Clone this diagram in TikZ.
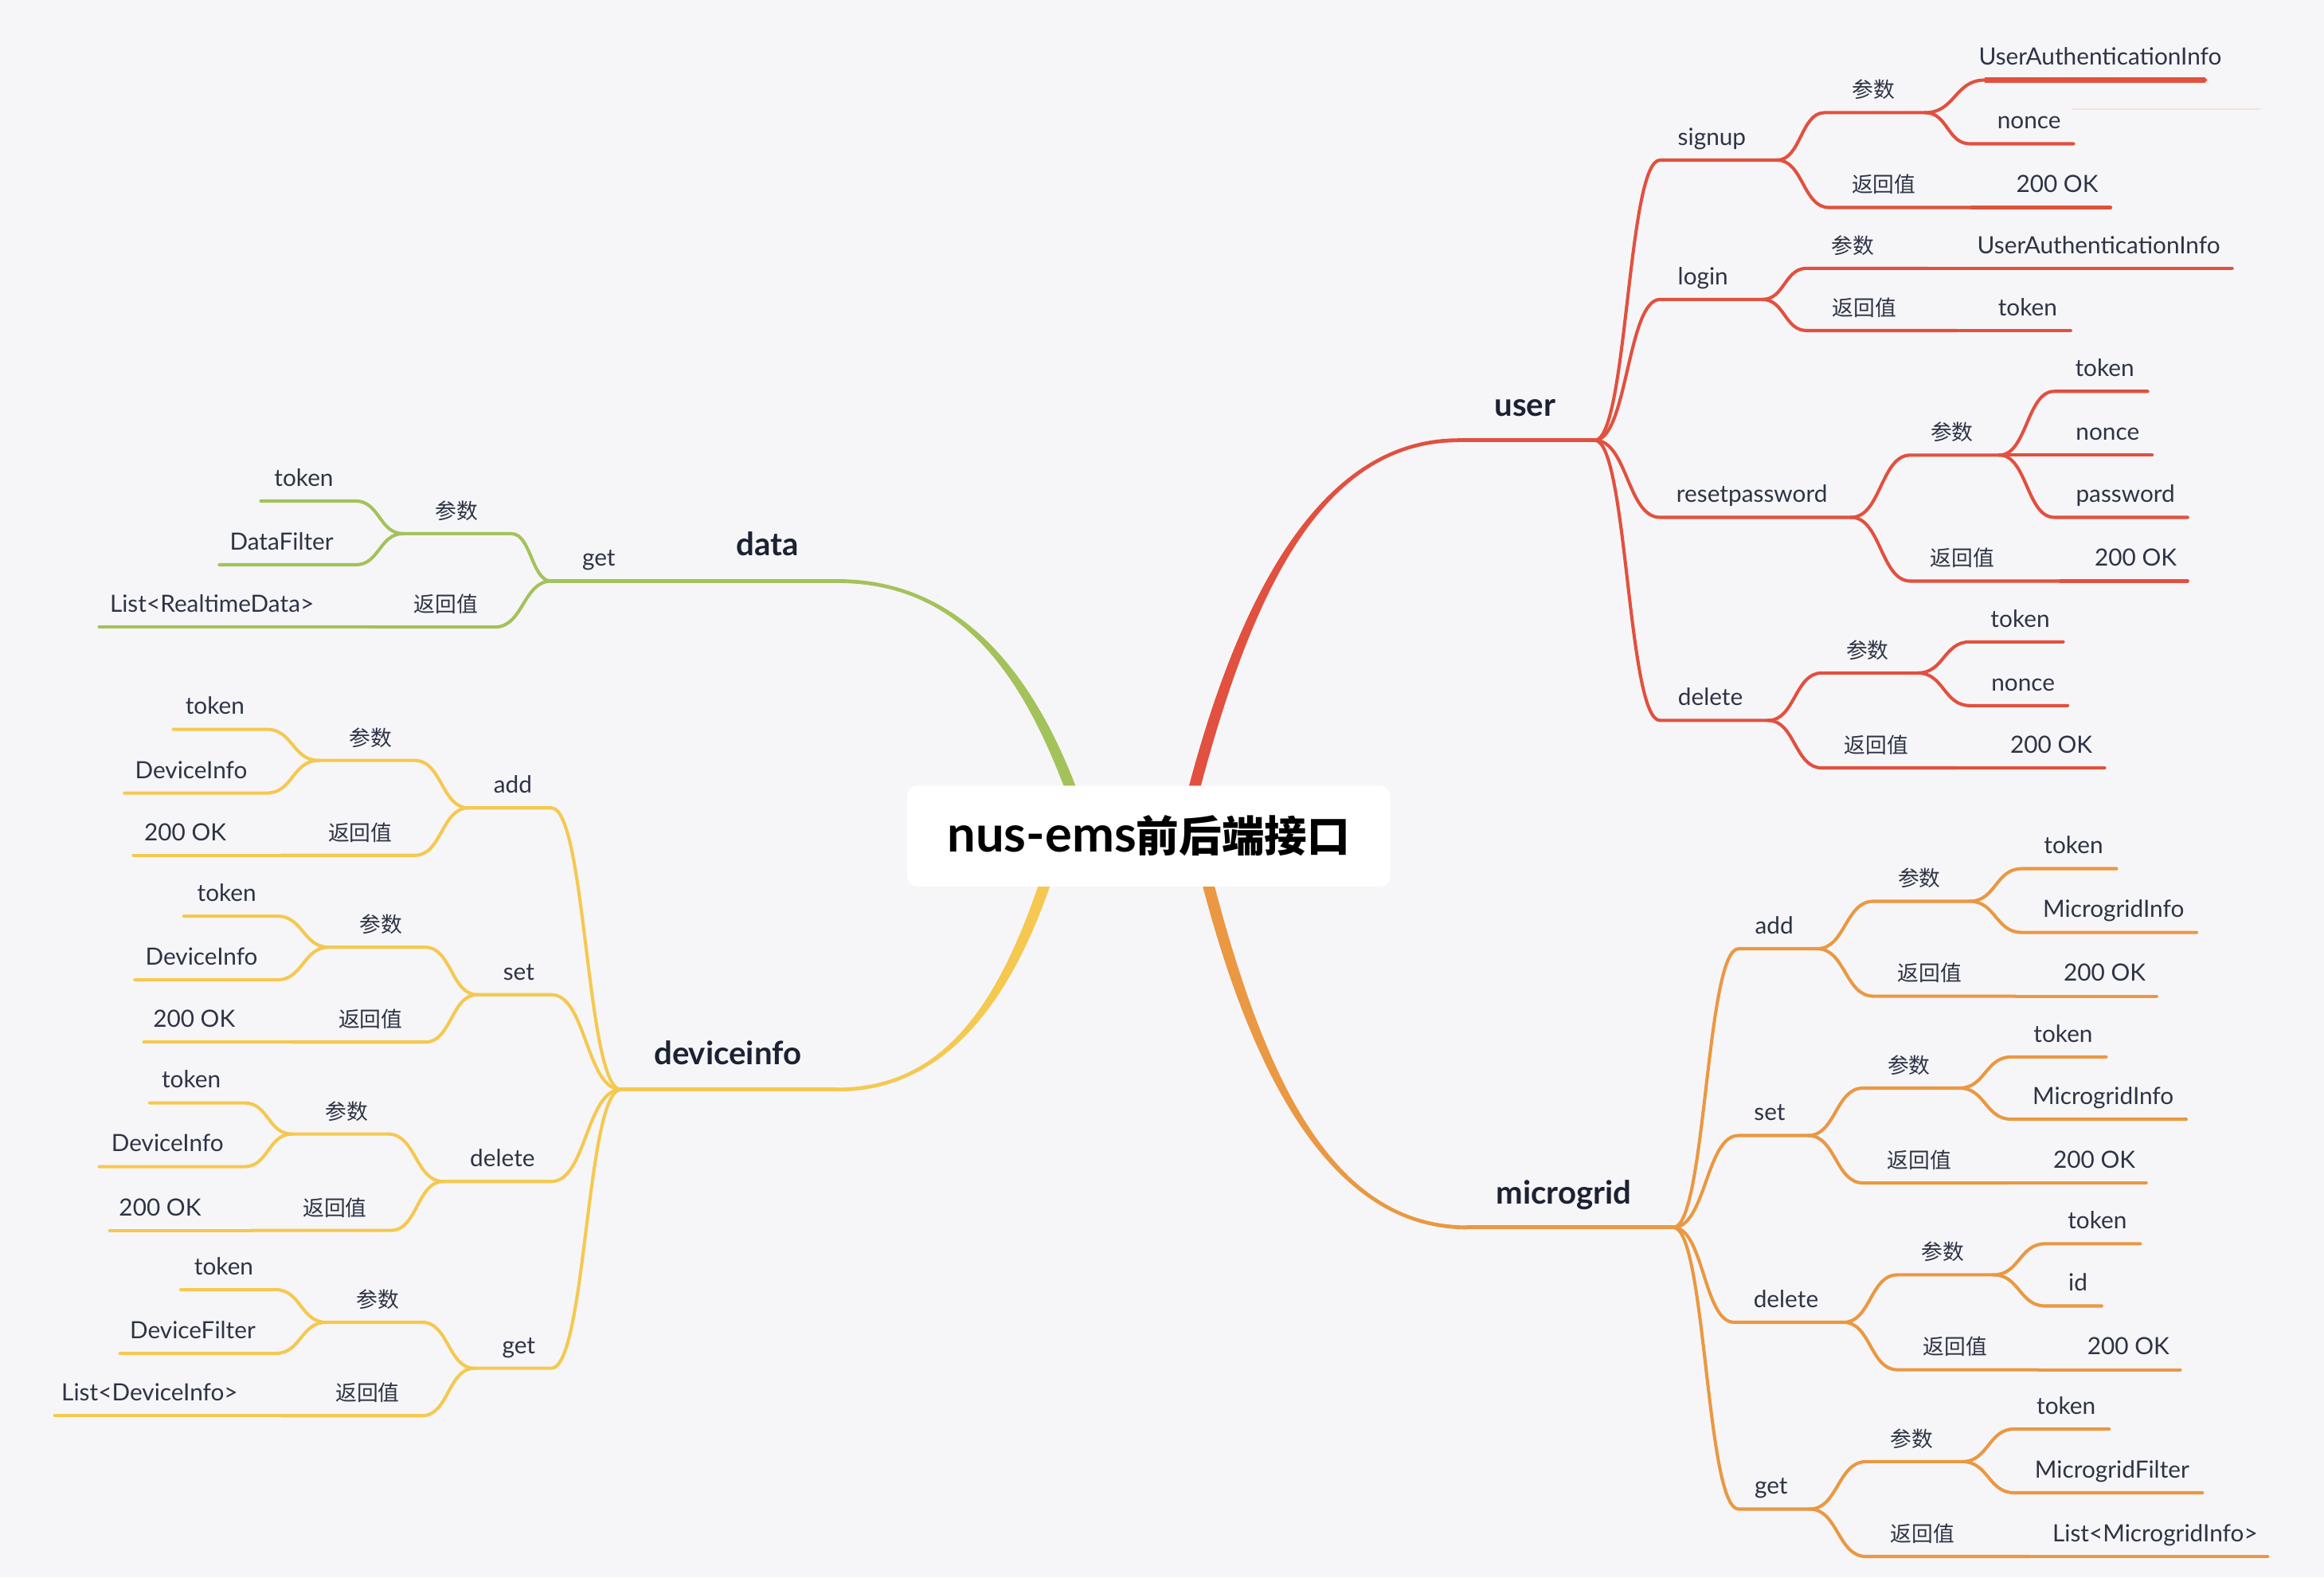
\documentclass[tikz,border=0pt]{standalone}
\usepackage{fontspec}
\setmainfont{Lato}
\newfontfamily\cjkfont{Noto Sans CJK SC}[Scale=0.9]
\newcommand\cn[1]{{\cjkfont #1}}
\usetikzlibrary{calc, positioning}
\definecolor{bgcol}{HTML}{F6F6F8}
\definecolor{ured}{HTML}{E2503F}
\definecolor{morange}{HTML}{EA9842}
\definecolor{dgreen}{HTML}{A4C25A}
\definecolor{iyellow}{HTML}{F5C850}
\definecolor{txtcol}{HTML}{2E3446}
\definecolor{topcol}{HTML}{1C2233}
\tikzset{
  sbend/.style={to path={let \p1=(\tikztostart), \p2=(\tikztotarget) in
    .. controls ({(\x1+\x2)/2},\y1) and ({(\x1+\x2)/2},\y2) .. (\tikztotarget)}},
  ul/.style={line width=1.1pt, line cap=round},
  hub/.style={line width=1.3pt, line cap=round},
  lbl/.style={font=\fontsize{8}{10}\selectfont, text=txtcol, inner sep=0pt, anchor=base},
  topic/.style={font=\fontsize{10.8}{12}\selectfont\bfseries, text=topcol, inner sep=0pt, anchor=base},
  rootbox/.style={fill=white, rounded corners=3.5pt, minimum width=163pt, minimum height=34pt,
    font=\fontsize{17}{20}\selectfont\bfseries, text=black, inner sep=0pt}
}

\begin{document}
\begin{tikzpicture}[x=0.5pt, y=-0.5pt]
    \fill[bgcol] (0,0) rectangle (1568,1064);
    % main branches
    \fill[ured] (802,531) .. controls (838,395) and (894,295.7) .. (984,295.7) -- (984,298.3) .. controls (894,298.3) and (846,395) .. (810,531) -- cycle;
    \fill[morange] (811,596) .. controls (846,730) and (900,829.3) .. (990,829.3) -- (990,826.7) .. controls (900,826.7) and (854,730) .. (819,596) -- cycle;
    \fill[dgreen] (718,531) .. controls (687,450) and (645,393.3) .. (565,393.3) -- (565,390.7) .. controls (645,390.7) and (695,450) .. (726,531) -- cycle;
    \fill[iyellow] (701,596) .. controls (673,678) and (636,733.7) .. (565,733.7) -- (565,736.3) .. controls (636,736.3) and (681,678) .. (709,596) -- cycle;
    \node[rootbox] (root) at (775,564) {nus-ems{\cjkfont\fontsize{16}{20}\selectfont 前后端接口}};

    \coordinate (user-a) at (984,297);
    \coordinate (user-b) at (1076,297);
    \coordinate (microgrid-a) at (990,828);
    \coordinate (microgrid-b) at (1129,828);
    \coordinate (data-a) at (565,392);
    \coordinate (data-b) at (450,392);
    \coordinate (deviceinfo-a) at (565,735);
    \coordinate (deviceinfo-b) at (419,735);
    \draw[hub, ured] (user-a) -- (user-b);
    \draw[hub, morange] (microgrid-a) -- (microgrid-b);
    \draw[hub, dgreen] (data-a) -- (data-b);
    \draw[hub, iyellow] (deviceinfo-a) -- (deviceinfo-b);
    \node[topic] (user) at (1029,281) {user};
    \node[topic] (microgrid) at (1055,812) {microgrid};
    \node[topic] (data) at (518,375) {data};
    \node[topic] (deviceinfo) at (491,718) {deviceinfo};

    % user
    \foreach \name/\from/\xa/\xb/\yy/\lx/\txt in {
        u-signup/user/1120/1199/108/1155/signup,
        u-s-par/u-signup/1231/1299/76/1264/\cn{参数},
        u-s-uai/u-s-par/1339/1488/54/1417/UserAuthenticationInfo,
        u-s-nonce/u-s-par/1329/1399/97/1369/nonce,
        u-s-ret/u-signup/1234/1330/140/1271/\cn{返回值},
        u-s-ok/u-s-ret/1330/1424/140/1388/200 OK,
        u-login/user/1120/1189/202/1149/login,
        u-l-par/u-login/1219/1300/181/1250/\cn{参数},
        u-l-uai/u-l-par/1300/1506/181/1416/UserAuthenticationInfo,
        u-l-ret/u-login/1219/1320/223/1258/\cn{返回值},
        u-l-token/u-l-ret/1320/1397/223/1368/token,
        u-reset/user/1120/1249/349/1182/resetpassword,
        u-r-par/u-reset/1289/1349/307/1317/\cn{参数},
        u-r-token/u-r-par/1386/1449/264/1420/token,
        u-r-nonce/u-r-par/1349/1452/307/1422/nonce,
        u-r-pwd/u-r-par/1386/1476/349/1434/password,
        u-r-ret/u-reset/1289/1390/392/1324/\cn{返回值},
        u-r-ok/u-r-ret/1390/1476/392/1441/200 OK,
        u-delete/user/1120/1193/486/1154/delete,
        u-d-par/u-delete/1229/1294/454/1260/\cn{参数},
        u-d-token/u-d-par/1329/1392/433/1363/token,
        u-d-nonce/u-d-par/1329/1395/476/1365/nonce,
        u-d-ret/u-delete/1229/1320/518/1266/\cn{返回值},
        u-d-ok/u-d-ret/1320/1420/518/1384/200 OK}
    {
        \coordinate (\name-a) at (\xa,\yy);
        \coordinate (\name-b) at (\xb,\yy);
        \draw[ul, ured] (\from-b) to[sbend] (\name-a) -- (\name-b);
        \node[lbl] (\name) at (\lx,\yy-10) {\txt};
    }
    \draw[line width=1.7pt, ured] (u-s-uai-a) -- (u-s-uai-b);
    \coordinate (stray-a) at (1398,73.6);
    \coordinate (stray-b) at (1525,73.6);
    \draw[ured!18, line width=0.5pt] (stray-a) -- (stray-b);

    % microgrid
    \foreach \name/\from/\xa/\xb/\yy/\lx/\txt in {
        m-add/microgrid/1173/1226/640/1197/add,
        m-a-par/m-add/1264/1329/608/1295/\cn{参数},
        m-a-token/m-a-par/1364/1428/586/1399/token,
        m-a-info/m-a-par/1364/1482/629/1426/MicrogridInfo,
        m-a-ret/m-add/1264/1360/672/1302/\cn{返回值},
        m-a-ok/m-a-ret/1360/1455/672/1420/200 OK,
        m-set/microgrid/1173/1220/766/1194/set,
        m-s-par/m-set/1257/1322/734/1288/\cn{参数},
        m-s-token/m-s-par/1357/1421/713/1392/token,
        m-s-info/m-s-par/1357/1475/755/1419/MicrogridInfo,
        m-s-ret/m-set/1257/1355/798/1295/\cn{返回值},
        m-s-ok/m-s-ret/1355/1448/798/1413/200 OK,
        m-delete/microgrid/1170/1244/892/1205/delete,
        m-d-par/m-delete/1280/1345/860/1311/\cn{参数},
        m-d-token/m-d-par/1380/1444/839/1415/token,
        m-d-id/m-d-par/1380/1418/881/1402/id,
        m-d-ret/m-delete/1280/1375/924/1319/\cn{返回值},
        m-d-ok/m-d-ret/1375/1471/924/1436/200 OK,
        m-get/microgrid/1173/1221/1018/1195/get,
        m-g-par/m-get/1259/1324/986/1290/\cn{参数},
        m-g-token/m-g-par/1359/1423/964/1394/token,
        m-g-filter/m-g-par/1359/1486/1007/1425/MicrogridFilter,
        m-g-ret/m-get/1259/1370/1050/1297/\cn{返回值},
        m-g-list/m-g-ret/1370/1530/1050/1454/List<MicrogridInfo>}
    {
        \coordinate (\name-a) at (\xa,\yy);
        \coordinate (\name-b) at (\xb,\yy);
        \draw[ul, morange] (\from-b) to[sbend] (\name-a) -- (\name-b);
        \node[lbl] (\name) at (\lx,\yy-10) {\txt};
    }

    % data
    \foreach \name/\from/\xa/\xb/\yy/\lx/\txt in {
        d-get/data/450/372/392/404/get,
        d-g-par/d-get/345/272/360/308/\cn{参数},
        d-g-token/d-g-par/240/176/338/205/token,
        d-g-filter/d-g-par/240/148/381/190/DataFilter,
        d-g-ret/d-get/334/250/423/301/\cn{返回值},
        d-g-list/d-g-ret/250/67/423/143/List<RealtimeData>}
    {
        \coordinate (\name-a) at (\xa,\yy);
        \coordinate (\name-b) at (\xb,\yy);
        \draw[ul, dgreen] (\from-b) to[sbend] (\name-a) -- (\name-b);
        \node[lbl] (\name) at (\lx,\yy-10) {\txt};
    }

    % deviceinfo
    \foreach \name/\from/\xa/\xb/\yy/\lx/\txt in {
        i-add/deviceinfo/372/316/545/346/add,
        i-a-par/i-add/280/215/513/250/\cn{参数},
        i-a-token/i-a-par/180/117/492/145/token,
        i-a-info/i-a-par/180/84/535/129/DeviceInfo,
        i-a-ret/i-add/280/190/577/243/\cn{返回值},
        i-a-ok/i-a-ret/190/90/577/125/200 OK,
        i-set/deviceinfo/372/322/671/350/set,
        i-s-par/i-set/287/222/639/257/\cn{参数},
        i-s-token/i-s-par/187/124/618/153/token,
        i-s-info/i-s-par/187/91/661/136/DeviceInfo,
        i-s-ret/i-set/287/197/703/250/\cn{返回值},
        i-s-ok/i-s-ret/197/97/703/131/200 OK,
        i-delete/deviceinfo/372/299/797/339/delete,
        i-d-par/i-delete/262/197/765/234/\cn{参数},
        i-d-token/i-d-par/165/101/744/129/token,
        i-d-info/i-d-par/165/67/787/113/DeviceInfo,
        i-d-ret/i-delete/264/170/830/226/\cn{返回值},
        i-d-ok/i-d-ret/170/74/830/108/200 OK,
        i-get/deviceinfo/372/320/923/350/get,
        i-g-par/i-get/285/220/892/255/\cn{参数},
        i-g-token/i-g-par/186/122/870/151/token,
        i-g-filter/i-g-par/186/81/913/130/DeviceFilter,
        i-g-ret/i-get/285/190/955/248/\cn{返回值},
        i-g-list/i-g-ret/190/37/955/101/List<DeviceInfo>}
    {
        \coordinate (\name-a) at (\xa,\yy);
        \coordinate (\name-b) at (\xb,\yy);
        \draw[ul, iyellow] (\from-b) to[sbend] (\name-a) -- (\name-b);
        \node[lbl] (\name) at (\lx,\yy-10) {\txt};
    }
\end{tikzpicture}
\end{document}
